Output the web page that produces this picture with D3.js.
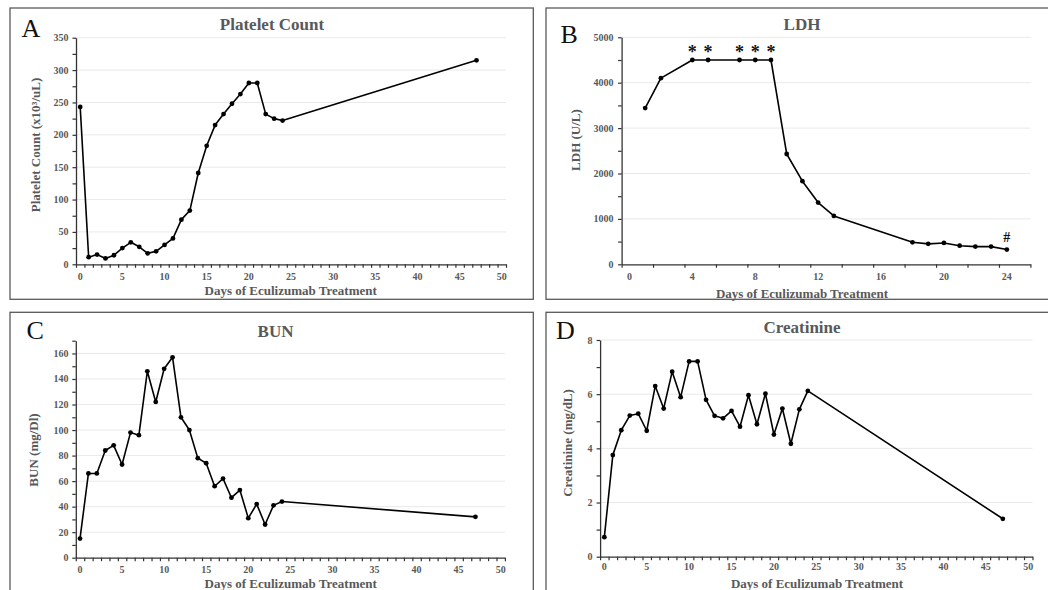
<!DOCTYPE html>
<html>
<head>
<meta charset="utf-8">
<script src="https://cdn.jsdelivr.net/npm/d3@7"></script>
<style>
  html, body { margin: 0; padding: 0; background: #fff; }
  svg { display: block; }
</style>
</head>
<body>
<div id="chart"></div>
<script>
// ---------------- DATA ----------------
const plateletDays   = [0,1,2,3,4,5,6,7,8,9,10,11,12,13,14,15,16,17,18,19,20,21,22,23,24,47];
const plateletValues = [243,11,15,9,14,25,34,27,17,20,30,40,69,83,141,183,215,232,248,263,280,280,232,225,222,315];

const ldhDays   = [1,2,4,5,7,8,9,10,11,12,13,18,19,20,21,22,23,24];
const ldhValues = [3440,4100,4500,4500,4500,4500,4500,2430,1830,1360,1065,485,450,470,410,390,390,325];
const ldhStarDays = [4,5,7,8,9];
const ldhHashDays = [24];

const bunDays   = [0,1,2,3,4,5,6,7,8,9,10,11,12,13,14,15,16,17,18,19,20,21,22,23,24,47];
const bunValues = [15,66,66,84,88,73,98,96,146,122,148,157,110,100,78,74,56,62,47,53,31,42,26,41,44,32];

const creatDays   = [0,1,2,3,4,5,6,7,8,9,10,11,12,13,14,15,16,17,18,19,20,21,22,23,24,47];
const creatValues = [0.72,3.75,4.67,5.21,5.28,4.65,6.3,5.47,6.83,5.89,7.21,7.21,5.79,5.2,5.11,5.38,4.8,5.96,4.89,6.02,4.51,5.47,4.17,5.44,6.12,1.4];

const panelTitles  = ["Platelet Count", "LDH", "BUN", "Creatinine"];
const panelLetters = ["A", "B", "C", "D"];
const yTitles      = ["Platelet Count (x10\u00B3/uL)", "LDH (U/L)", "BUN (mg/Dl)", "Creatinine (mg/dL)"];
const xTitle       = "Days of Eculizumab Treatment";

const dayLabels50 = [0,5,10,15,20,25,30,35,40,45,50];
const dayLabels24 = [0,4,8,12,16,20,24];
const plateletYLabels = [0,50,100,150,200,250,300,350];
const ldhYLabels      = [0,1000,2000,3000,4000,5000];
const bunYLabels      = [0,20,40,60,80,100,120,140,160];
const creatYLabels    = [0,2,4,6,8];

// ---------------- LAYOUT ----------------
const W = 1048, H = 590;
const svg = d3.select("#chart").append("svg").attr("width", W).attr("height", H);
svg.append("rect").attr("width", W).attr("height", H).attr("fill", "#fff");

const SERIF = "'Liberation Serif', 'Times New Roman', serif";
const GRAY = "#595959";

const panels = [
  { days: plateletDays, vals: plateletValues, title: panelTitles[0], letter: panelLetters[0], yTitle: yTitles[0],
    box: [10, 8, 533.3, 299.3],
    xDom: [-0.5, 50.5], xR: [76, 506], xTickStep: 1, xLabels: dayLabels50,
    yDom: [0, 350], yR: [264.3, 37.7], yTickStep: 25, yLabels: plateletYLabels,
    titleX: 272, titleY: 29.5, letterX: 21.5, letterY: 37.3,
    xLabY: 279.5, xTitleX: 290.7, xTitleY: 295, yTitleX: 39.5, yTitleY: 145, yLabX: 68.5 },
  { days: ldhDays, vals: ldhValues, title: panelTitles[1], letter: panelLetters[1], yTitle: yTitles[1],
    box: [546, 8, 1070, 299.3],
    xDom: [-0.5, 25.5], xR: [621.6, 1030.4], xTickStep: 2, xLabels: dayLabels24,
    yDom: [0, 5000], yR: [264.3, 37.3], yTickStep: 500, yLabels: ldhYLabels,
    titleX: 802, titleY: 29.5, letterX: 560.5, letterY: 43.3,
    xLabY: 279.5, xTitleX: 802, xTitleY: 297.5, yTitleX: 579.5, yTitleY: 140, yLabX: 613.5 },
  { days: bunDays, vals: bunValues, title: panelTitles[2], letter: panelLetters[2], yTitle: yTitles[2],
    box: [10, 312.3, 533.3, 620],
    xDom: [-0.5, 50.5], xR: [75.8, 504.9], xTickStep: 1, xLabels: dayLabels50,
    yDom: [0, 170], yR: [557.7, 340.7], yTickStep: 10, yLabels: bunYLabels,
    titleX: 275.5, titleY: 336.5, letterX: 26.5, letterY: 339.3,
    xLabY: 572.8, xTitleX: 290.7, xTitleY: 588, yTitleX: 37.5, yTitleY: 450, yLabX: 68.5 },
  { days: creatDays, vals: creatValues, title: panelTitles[3], letter: panelLetters[3], yTitle: yTitles[3],
    box: [546, 312.3, 1070, 620],
    xDom: [-0.5, 50.5], xR: [600.1, 1032.5], xTickStep: 1, xLabels: dayLabels50,
    yDom: [0, 8], yR: [556.7, 340], yTickStep: 1, yLabels: creatYLabels,
    titleX: 802, titleY: 332.5, letterX: 556, letterY: 339.3,
    xLabY: 570.2, xTitleX: 817, xTitleY: 587.5, yTitleX: 571.5, yTitleY: 443, yLabX: 592.5 }
];

panels.forEach((p, i) => {
  const g = svg.append("g");
  const [bx0, by0, bx1, by1] = p.box;
  g.append("rect").attr("x", bx0).attr("y", by0).attr("width", bx1 - bx0).attr("height", by1 - by0)
    .attr("fill", "#fff").attr("stroke", "#5a5a5a").attr("stroke-width", 1.3);

  const x = d3.scaleLinear().domain(p.xDom).range(p.xR);
  const y = d3.scaleLinear().domain(p.yDom).range(p.yR);

  // gridlines
  g.append("g").selectAll("line").data(p.yLabels.filter(v => v > 0)).join("line")
    .attr("x1", p.xR[0]).attr("x2", p.xR[1])
    .attr("y1", d => y(d)).attr("y2", d => y(d))
    .attr("stroke", "#e9e9e9").attr("stroke-width", 1);

  // x axis ticks (at half-day offsets, like the source)
  const xTicks = d3.range(p.xDom[0], p.xDom[1] + 0.001, p.xTickStep);
  const xAxis = d3.axisBottom(x).tickValues(xTicks).tickFormat("").tickSize(3.5).tickSizeOuter(0);
  const xg = g.append("g").attr("transform", `translate(0,${p.yR[0]})`).call(xAxis);
  xg.select(".domain").attr("stroke", "#333").attr("stroke-width", 1.3);
  xg.selectAll(".tick line").attr("stroke", "#333").attr("stroke-width", 1.2);

  // x labels
  g.append("g").selectAll("text").data(p.xLabels).join("text")
    .attr("x", d => x(d)).attr("y", p.xLabY)
    .attr("text-anchor", "middle")
    .attr("font-family", SERIF).attr("font-weight", "bold").attr("font-size", 10)
    .attr("fill", GRAY).text(d => d);

  // y axis
  const yTicks = d3.range(p.yDom[0], p.yDom[1] + 1e-9, p.yTickStep);
  const yAxis = d3.axisLeft(y).tickValues(yTicks).tickFormat("").tickSize(3.5).tickSizeOuter(0);
  const yg = g.append("g").attr("transform", `translate(${p.xR[0]},0)`).call(yAxis);
  yg.select(".domain").attr("stroke", "#333").attr("stroke-width", 1.3);
  yg.selectAll(".tick line").attr("stroke", "#333").attr("stroke-width", 1.2);

  g.append("g").selectAll("text").data(p.yLabels).join("text")
    .attr("x", p.yLabX).attr("y", d => y(d)).attr("dy", "0.35em")
    .attr("text-anchor", "end")
    .attr("font-family", SERIF).attr("font-weight", "bold").attr("font-size", 10)
    .attr("fill", GRAY).text(d => d);

  // line & markers
  const pts = p.days.map((d, k) => [d, p.vals[k]]);
  g.append("path").datum(pts)
    .attr("d", d3.line().x(d => x(d[0])).y(d => y(d[1])))
    .attr("fill", "none").attr("stroke", "#000").attr("stroke-width", 1.6)
    .attr("stroke-linejoin", "round");
  g.append("g").selectAll("circle").data(pts).join("circle")
    .attr("cx", d => x(d[0])).attr("cy", d => y(d[1])).attr("r", 2.4).attr("fill", "#000");

  // panel title, letter, axis titles
  g.append("text").attr("x", p.titleX).attr("y", p.titleY).attr("text-anchor", "middle")
    .attr("font-family", SERIF).attr("font-weight", "bold").attr("font-size", 17)
    .attr("fill", GRAY).text(p.title);
  g.append("text").attr("x", p.letterX).attr("y", p.letterY)
    .attr("font-family", SERIF).attr("font-size", 26).attr("fill", "#111").text(p.letter);
  g.append("text").attr("x", p.xTitleX).attr("y", p.xTitleY).attr("text-anchor", "middle")
    .attr("font-family", SERIF).attr("font-weight", "bold").attr("font-size", 13)
    .attr("fill", GRAY).text(xTitle);
  g.append("text").attr("transform", `translate(${p.yTitleX},${p.yTitleY}) rotate(-90)`)
    .attr("text-anchor", "middle")
    .attr("font-family", SERIF).attr("font-weight", "bold").attr("font-size", 13)
    .attr("fill", GRAY).text(p.yTitle);

  p.x = x; p.y = y;
});

// LDH annotations
const pB = panels[1];
svg.append("g").selectAll("text").data(ldhStarDays).join("text")
  .attr("x", d => pB.x(d)).attr("y", d => pB.y(ldhValues[ldhDays.indexOf(d)]) - 2.5)
  .attr("text-anchor", "middle")
  .attr("font-family", SERIF).attr("font-weight", "bold").attr("font-size", 18)
  .attr("fill", "#111").text("*");
svg.append("g").selectAll("text").data(ldhHashDays).join("text")
  .attr("x", d => pB.x(d)).attr("y", d => pB.y(ldhValues[ldhDays.indexOf(d)]) - 7.5)
  .attr("text-anchor", "middle")
  .attr("font-family", SERIF).attr("font-weight", "bold").attr("font-size", 14)
  .attr("fill", "#111").text("#");
</script>
</body>
</html>
